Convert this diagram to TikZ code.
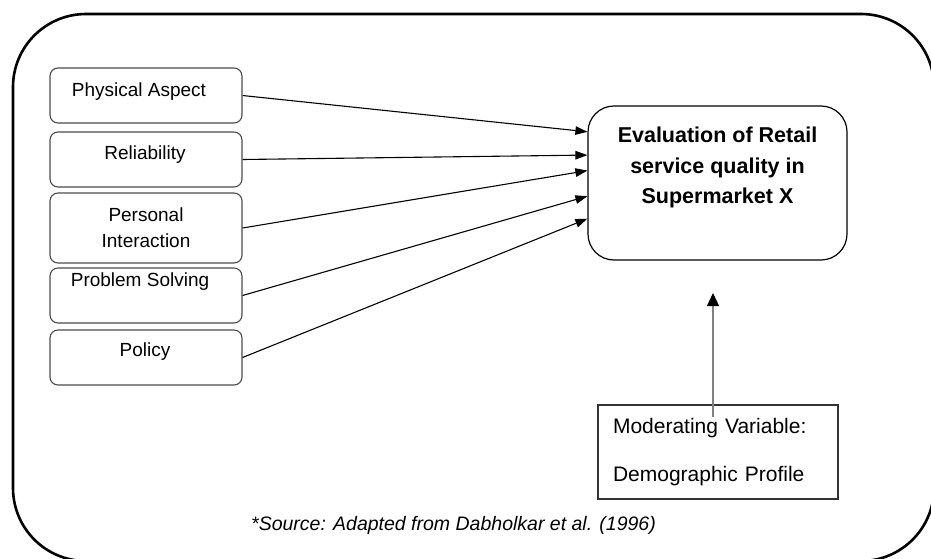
\documentclass[tikz,border=0pt]{standalone}
\usepackage{fontspec}
\setmainfont{Liberation Sans}
\usetikzlibrary{arrows.meta,calc}

\begin{document}
\begin{tikzpicture}[x=1pt,y=-1pt,
    factor/.style={draw=black!70,line width=1.1pt,rounded corners=8pt,minimum width=192pt,minimum height=55pt,inner sep=0pt},
    ftext/.style={inner sep=0pt,align=center,font=\fontsize{19}{26}\selectfont},
    flow/.style={-{Triangle[length=12pt,width=8.5pt]},line width=1.1pt},
  ]
  \useasboundingbox (0,0) rectangle (931,558);

  % outer frame, it runs off the page on the right and at the bottom
  \begin{scope}
    \clip (0,0) rectangle (931,558);
    \draw[line width=2.6pt,rounded corners=73pt] (13,14) rectangle (934,561);
  \end{scope}

  % the five dimensions
  \node[factor] (phys) at (146,95.5) {};
  \node[factor] (rel)  at (146,159.5) {};
  \node[factor,minimum height=70pt] (pers) at (146,228) {};
  \node[factor] (prob) at (146,295.5) {};
  \node[factor] (pol)  at (146,357.5) {};

  \node[ftext] (physT) at ([xshift=-7pt,yshift=3.5pt]phys.center) {Physical Aspect};
  \node[ftext] (relT)  at ([xshift=-1pt,yshift=4.5pt]rel.center) {Reliability};
  \node[ftext] (persT) at (pers.center) {Personal\\Interaction};
  \node[ftext] (probT) at ([xshift=-6pt,yshift=14pt]prob.center) {Problem Solving};
  \node[ftext] (polT)  at ([xshift=-1pt,yshift=5.5pt]pol.center) {Policy};

  % outcome
  \node[draw,line width=1.2pt,rounded corners=26pt,minimum width=259pt,minimum height=154pt] (eval) at (717.5,183) {};
  \node[inner sep=0pt,align=center,font=\bfseries\fontsize{21.5}{30.5}\selectfont] (evalT)
    at ([yshift=15.5pt]eval.center) {Evaluation of Retail\\service quality in\\Supermarket X};

  \foreach \src/\f in {phys/0.17, rel/0.32, pers/0.42, prob/0.585, pol/0.73}
    \draw[flow] (\src.east) -- ($(eval.north west)!\f!(eval.south west)$);

  % moderator
  \node[draw=black!80,line width=1.1pt,minimum width=240pt,minimum height=94pt,inner xsep=15pt,
        text width=210pt,align=left,font=\fontsize{21}{25}\selectfont] (mod) at (718,452)
    {Moderating Variable:\\[23pt]Demographic Profile};
  \coordinate (modIn) at (713,417);
  \coordinate (modTip) at (713,293);
  \draw[black!50,line width=1.2pt,-{Triangle[length=13pt,width=12pt,fill=black,color=black]}] (modIn) -- (modTip);

  \node[inner sep=0pt,font=\itshape\fontsize{19.5}{24}\selectfont] (src) at (453.5,525)
    {*Source: Adapted from Dabholkar et al. (1996)};
\end{tikzpicture}
\end{document}
